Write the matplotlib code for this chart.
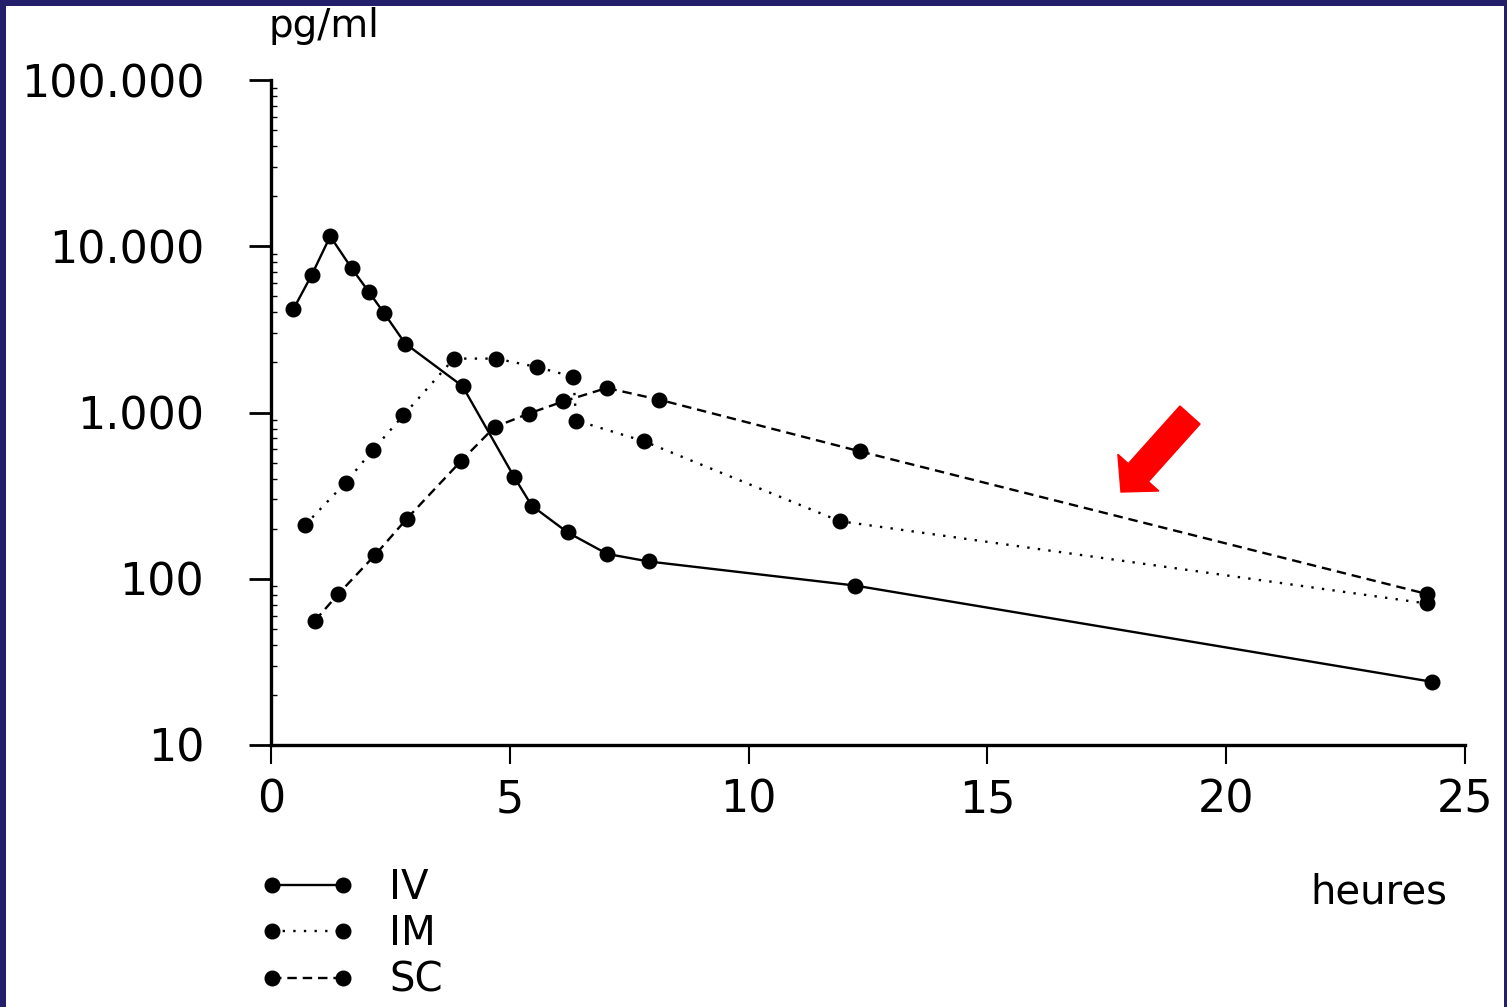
import matplotlib
matplotlib.use("Agg")
import matplotlib.pyplot as plt
from matplotlib.patches import Rectangle, FancyArrow
from matplotlib.transforms import IdentityTransform
from matplotlib.ticker import FixedLocator, FixedFormatter, LogLocator, NullFormatter

# ---------------- data ----------------
iv_t = [0.47, 0.85, 1.24, 1.69, 2.05, 2.37, 2.81, 4.01, 5.09, 5.46, 6.21, 7.04, 7.91, 12.23, 24.31]
iv_c = [4190, 6700, 11480, 7360, 5310, 3950, 2600, 1440, 410, 275, 190, 141, 127, 91, 24]

im_t = [0.71, 1.56, 2.14, 2.77, 3.83, 4.71, 5.56, 6.33, 6.39, 7.80, 11.91, 24.2]
im_c = [210, 378, 598, 960, 2110, 2110, 1880, 1640, 895, 673, 222, 71]

sc_t = [0.92, 1.41, 2.18, 2.84, 3.98, 4.68, 5.40, 6.12, 7.03, 8.13, 12.33, 24.2]
sc_c = [56, 81, 139, 229, 511, 817, 986, 1166, 1404, 1194, 584, 81]

series_labels = ["IV", "IM", "SC"]
y_ticks = [10, 100, 1000, 10000, 100000]
y_tick_labels = ["10", "100", "1.000", "10.000", "100.000"]
x_ticks = [0, 5, 10, 15, 20, 25]
x_tick_labels = ["0", "5", "10", "15", "20", "25"]

# ---------------- figure ----------------
W, H = 1507, 1007
plt.rcParams['font.family'] = ['DejaVu Sans']
fig = plt.figure(figsize=(W / 100, H / 100), dpi=100)
fig.patch.set_facecolor("#231F6B")
bg = Rectangle((6 / W, 0), (1504 - 6) / W, (H - 6) / H,
               transform=fig.transFigure, facecolor="white",
               edgecolor="none", zorder=-100)
fig.add_artist(bg)

ax = fig.add_axes([271 / W, (H - 745) / H, (1465 - 271) / W, (745 - 80) / H])
ax.set_zorder(1)
ax.set_facecolor("none")
ax.set_yscale("log")
ax.set_xlim(0, 25)
ax.set_ylim(10, 100000)

lw = 1.7
ms = 10.5
ax.plot(iv_t, iv_c, color="black", lw=lw, ls="-", marker="o", ms=ms,
        label=series_labels[0], clip_on=False)
ax.plot(im_t, im_c, color="black", lw=lw, ls=(0, (1, 3.5)), marker="o", ms=ms,
        label=series_labels[1], clip_on=False)
ax.plot(sc_t, sc_c, color="black", lw=lw, ls=(0, (4, 2.5)), marker="o", ms=ms,
        label=series_labels[2], clip_on=False)

for s in ["top", "right"]:
    ax.spines[s].set_visible(False)
ax.spines["left"].set_linewidth(2.4)
ax.spines["bottom"].set_linewidth(2.4)

ax.yaxis.set_major_locator(FixedLocator(y_ticks))
ax.yaxis.set_major_formatter(FixedFormatter(y_tick_labels))
ax.yaxis.set_minor_locator(LogLocator(base=10, subs=range(2, 10)))
ax.yaxis.set_minor_formatter(NullFormatter())
ax.xaxis.set_major_locator(FixedLocator(x_ticks))
ax.xaxis.set_major_formatter(FixedFormatter(x_tick_labels))

ax.tick_params(axis="y", which="major", direction="out", length=16, width=2,
               pad=32, labelsize=32)
ax.tick_params(axis="y", which="minor", direction="in", length=4, width=1)
ax.tick_params(axis="x", which="major", direction="out", length=14, width=1.5,
               pad=10, labelsize=32)

# axis texts
fig.text(268 / W, (H - 37) / H, "pg/ml", fontsize=28, ha="left", va="baseline")
fig.text(1447 / W, (H - 903) / H, "heures", fontsize=29, ha="right", va="baseline")

# legend
ax.legend(loc="upper left", bbox_to_anchor=(260 / W, (H - 868) / H),
          bbox_transform=fig.transFigure, frameon=False, fontsize=29,
          numpoints=2, handlelength=2.35, handletextpad=0.85, labelspacing=0.16,
          borderpad=0, borderaxespad=0, markerscale=1.0)

# red arrow
tail = (1190, H - 415)
tip = (1121, H - 492)
arrow = FancyArrow(tail[0], tail[1], tip[0] - tail[0], tip[1] - tail[1],
                   width=27, head_width=55, head_length=26,
                   length_includes_head=True, color="#FF0000",
                   transform=IdentityTransform(), zorder=5)
fig.add_artist(arrow)

fig.savefig("out.png", dpi=100, facecolor=fig.get_facecolor())
